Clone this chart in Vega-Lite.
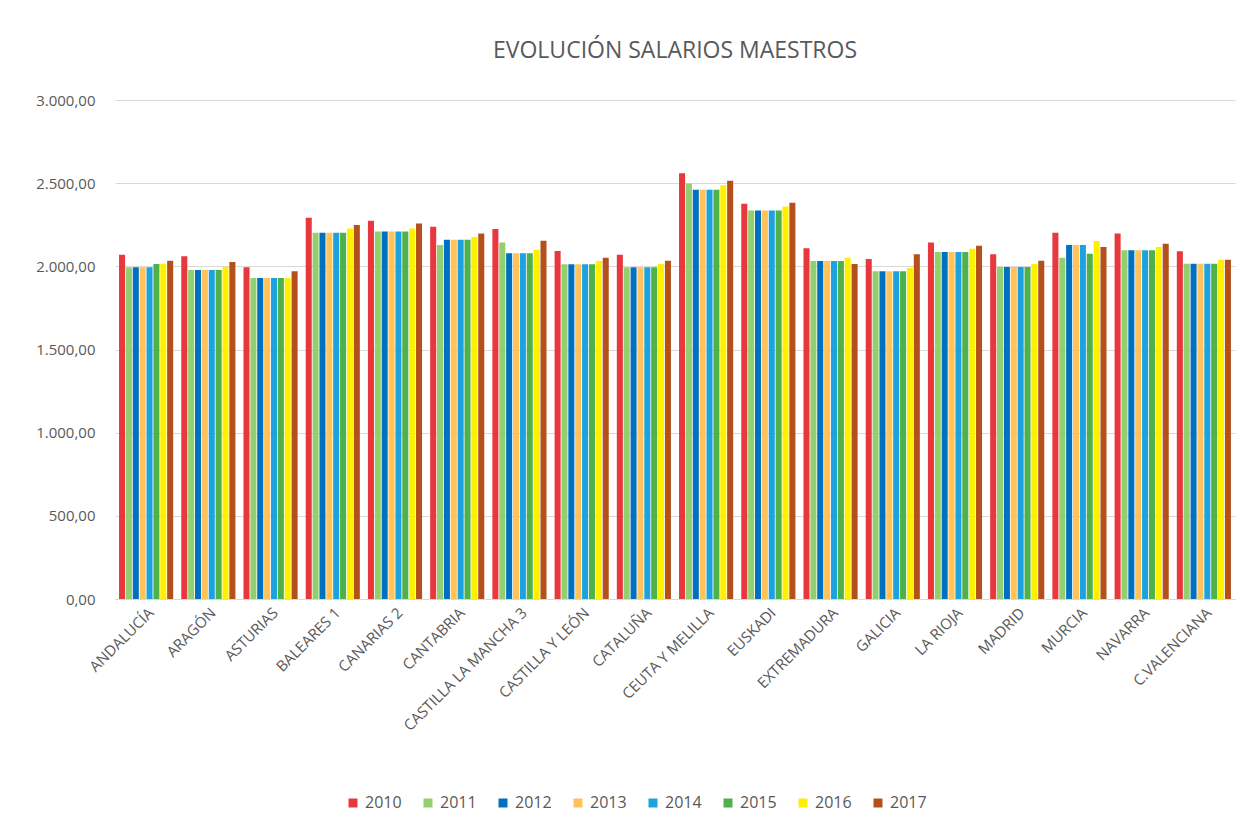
{
  "$schema": "https://vega.github.io/schema/vega-lite/v6.json",
  "width": 1120,
  "height": 499,
  "autosize": {"type": "none"},
  "padding": {"left": 115, "top": 100, "right": 15, "bottom": 231},
  "title": {"text": "EVOLUCIÓN SALARIOS MAESTROS", "fontSize": 23, "fontWeight": "normal", "color": "#595959", "offset": 30, "anchor": "middle"},
  "config": {
    "font": "Open Sans",
    "locale": {"number": {"decimal": ",", "thousands": ".", "grouping": [3], "currency": ["", " €"]}},
    "view": {"stroke": null}
  },
  "data": {"values": [
    {"r":"ANDALUCÍA","y":"2010","v":2070},{"r":"ANDALUCÍA","y":"2011","v":1995},{"r":"ANDALUCÍA","y":"2012","v":1995},{"r":"ANDALUCÍA","y":"2013","v":1995},{"r":"ANDALUCÍA","y":"2014","v":1995},{"r":"ANDALUCÍA","y":"2015","v":2014},{"r":"ANDALUCÍA","y":"2016","v":2016},{"r":"ANDALUCÍA","y":"2017","v":2034},
    {"r":"ARAGÓN","y":"2010","v":2060},{"r":"ARAGÓN","y":"2011","v":1978},{"r":"ARAGÓN","y":"2012","v":1978},{"r":"ARAGÓN","y":"2013","v":1978},{"r":"ARAGÓN","y":"2014","v":1978},{"r":"ARAGÓN","y":"2015","v":1978},{"r":"ARAGÓN","y":"2016","v":1998},{"r":"ARAGÓN","y":"2017","v":2026},
    {"r":"ASTURIAS","y":"2010","v":1994},{"r":"ASTURIAS","y":"2011","v":1930},{"r":"ASTURIAS","y":"2012","v":1930},{"r":"ASTURIAS","y":"2013","v":1930},{"r":"ASTURIAS","y":"2014","v":1930},{"r":"ASTURIAS","y":"2015","v":1930},{"r":"ASTURIAS","y":"2016","v":1930},{"r":"ASTURIAS","y":"2017","v":1970},
    {"r":"BALEARES 1","y":"2010","v":2292},{"r":"BALEARES 1","y":"2011","v":2202},{"r":"BALEARES 1","y":"2012","v":2202},{"r":"BALEARES 1","y":"2013","v":2202},{"r":"BALEARES 1","y":"2014","v":2202},{"r":"BALEARES 1","y":"2015","v":2202},{"r":"BALEARES 1","y":"2016","v":2228},{"r":"BALEARES 1","y":"2017","v":2248},
    {"r":"CANARIAS 2","y":"2010","v":2274},{"r":"CANARIAS 2","y":"2011","v":2210},{"r":"CANARIAS 2","y":"2012","v":2210},{"r":"CANARIAS 2","y":"2013","v":2210},{"r":"CANARIAS 2","y":"2014","v":2210},{"r":"CANARIAS 2","y":"2015","v":2210},{"r":"CANARIAS 2","y":"2016","v":2228},{"r":"CANARIAS 2","y":"2017","v":2258},
    {"r":"CANTABRIA","y":"2010","v":2238},{"r":"CANTABRIA","y":"2011","v":2128},{"r":"CANTABRIA","y":"2012","v":2160},{"r":"CANTABRIA","y":"2013","v":2160},{"r":"CANTABRIA","y":"2014","v":2160},{"r":"CANTABRIA","y":"2015","v":2160},{"r":"CANTABRIA","y":"2016","v":2176},{"r":"CANTABRIA","y":"2017","v":2198},
    {"r":"CASTILLA LA MANCHA 3","y":"2010","v":2224},{"r":"CASTILLA LA MANCHA 3","y":"2011","v":2144},{"r":"CASTILLA LA MANCHA 3","y":"2012","v":2078},{"r":"CASTILLA LA MANCHA 3","y":"2013","v":2078},{"r":"CASTILLA LA MANCHA 3","y":"2014","v":2078},{"r":"CASTILLA LA MANCHA 3","y":"2015","v":2078},{"r":"CASTILLA LA MANCHA 3","y":"2016","v":2100},{"r":"CASTILLA LA MANCHA 3","y":"2017","v":2154},
    {"r":"CASTILLA Y LEÓN","y":"2010","v":2092},{"r":"CASTILLA Y LEÓN","y":"2011","v":2012},{"r":"CASTILLA Y LEÓN","y":"2012","v":2012},{"r":"CASTILLA Y LEÓN","y":"2013","v":2012},{"r":"CASTILLA Y LEÓN","y":"2014","v":2012},{"r":"CASTILLA Y LEÓN","y":"2015","v":2012},{"r":"CASTILLA Y LEÓN","y":"2016","v":2032},{"r":"CASTILLA Y LEÓN","y":"2017","v":2052},
    {"r":"CATALUÑA","y":"2010","v":2070},{"r":"CATALUÑA","y":"2011","v":1994},{"r":"CATALUÑA","y":"2012","v":1994},{"r":"CATALUÑA","y":"2013","v":1994},{"r":"CATALUÑA","y":"2014","v":1994},{"r":"CATALUÑA","y":"2015","v":1994},{"r":"CATALUÑA","y":"2016","v":2014},{"r":"CATALUÑA","y":"2017","v":2034},
    {"r":"CEUTA Y MELILLA","y":"2010","v":2560},{"r":"CEUTA Y MELILLA","y":"2011","v":2498},{"r":"CEUTA Y MELILLA","y":"2012","v":2460},{"r":"CEUTA Y MELILLA","y":"2013","v":2460},{"r":"CEUTA Y MELILLA","y":"2014","v":2460},{"r":"CEUTA Y MELILLA","y":"2015","v":2460},{"r":"CEUTA Y MELILLA","y":"2016","v":2488},{"r":"CEUTA Y MELILLA","y":"2017","v":2514},
    {"r":"EUSKADI","y":"2010","v":2376},{"r":"EUSKADI","y":"2011","v":2336},{"r":"EUSKADI","y":"2012","v":2336},{"r":"EUSKADI","y":"2013","v":2336},{"r":"EUSKADI","y":"2014","v":2336},{"r":"EUSKADI","y":"2015","v":2336},{"r":"EUSKADI","y":"2016","v":2360},{"r":"EUSKADI","y":"2017","v":2382},
    {"r":"EXTREMADURA","y":"2010","v":2108},{"r":"EXTREMADURA","y":"2011","v":2032},{"r":"EXTREMADURA","y":"2012","v":2032},{"r":"EXTREMADURA","y":"2013","v":2032},{"r":"EXTREMADURA","y":"2014","v":2032},{"r":"EXTREMADURA","y":"2015","v":2032},{"r":"EXTREMADURA","y":"2016","v":2052},{"r":"EXTREMADURA","y":"2017","v":2014},
    {"r":"GALICIA","y":"2010","v":2044},{"r":"GALICIA","y":"2011","v":1970},{"r":"GALICIA","y":"2012","v":1970},{"r":"GALICIA","y":"2013","v":1970},{"r":"GALICIA","y":"2014","v":1970},{"r":"GALICIA","y":"2015","v":1970},{"r":"GALICIA","y":"2016","v":1992},{"r":"GALICIA","y":"2017","v":2072},
    {"r":"LA RIOJA","y":"2010","v":2144},{"r":"LA RIOJA","y":"2011","v":2086},{"r":"LA RIOJA","y":"2012","v":2086},{"r":"LA RIOJA","y":"2013","v":2086},{"r":"LA RIOJA","y":"2014","v":2086},{"r":"LA RIOJA","y":"2015","v":2086},{"r":"LA RIOJA","y":"2016","v":2106},{"r":"LA RIOJA","y":"2017","v":2124},
    {"r":"MADRID","y":"2010","v":2072},{"r":"MADRID","y":"2011","v":1996},{"r":"MADRID","y":"2012","v":1996},{"r":"MADRID","y":"2013","v":1996},{"r":"MADRID","y":"2014","v":1996},{"r":"MADRID","y":"2015","v":1996},{"r":"MADRID","y":"2016","v":2014},{"r":"MADRID","y":"2017","v":2034},
    {"r":"MURCIA","y":"2010","v":2202},{"r":"MURCIA","y":"2011","v":2052},{"r":"MURCIA","y":"2012","v":2128},{"r":"MURCIA","y":"2013","v":2128},{"r":"MURCIA","y":"2014","v":2128},{"r":"MURCIA","y":"2015","v":2076},{"r":"MURCIA","y":"2016","v":2152},{"r":"MURCIA","y":"2017","v":2116},
    {"r":"NAVARRA","y":"2010","v":2198},{"r":"NAVARRA","y":"2011","v":2096},{"r":"NAVARRA","y":"2012","v":2096},{"r":"NAVARRA","y":"2013","v":2096},{"r":"NAVARRA","y":"2014","v":2096},{"r":"NAVARRA","y":"2015","v":2096},{"r":"NAVARRA","y":"2016","v":2116},{"r":"NAVARRA","y":"2017","v":2136},
    {"r":"C.VALENCIANA","y":"2010","v":2090},{"r":"C.VALENCIANA","y":"2011","v":2016},{"r":"C.VALENCIANA","y":"2012","v":2016},{"r":"C.VALENCIANA","y":"2013","v":2016},{"r":"C.VALENCIANA","y":"2014","v":2016},{"r":"C.VALENCIANA","y":"2015","v":2016},{"r":"C.VALENCIANA","y":"2016","v":2040},{"r":"C.VALENCIANA","y":"2017","v":2040}
  ]},
  "mark": {"type": "bar"},
  "encoding": {
    "x": {
      "field": "r", "type": "nominal", "sort": null,
      "scale": {"paddingInner": 0.13, "paddingOuter": 0.065},
      "axis": {"title": null, "labelAngle": -45, "labelFontSize": 15, "labelColor": "#595959", "ticks": false, "domainColor": "#D9D9D9", "labelPadding": 6}
    },
    "xOffset": {"field": "y", "type": "nominal", "scale": {"paddingInner": 0.12}},
    "y": {
      "field": "v", "type": "quantitative",
      "scale": {"domain": [0, 3000]},
      "axis": {"title": null, "values": [0, 500, 1000, 1500, 2000, 2500, 3000], "format": ",.2f", "domain": false, "ticks": false, "gridColor": "#D9D9D9", "labelFontSize": 15, "labelColor": "#595959", "labelPadding": 20}
    },
    "color": {
      "field": "y", "type": "nominal",
      "scale": {"domain": ["2010","2011","2012","2013","2014","2015","2016","2017"], "range": ["#E8383D","#92D06F","#0070C0","#FFC35A","#1CA2DE","#4EB14A","#FFF000","#B4501C"]},
      "legend": {"orient": "none", "legendX": 230, "legendY": 695, "direction": "horizontal", "title": null, "symbolType": "square", "symbolSize": 81, "symbolStrokeWidth": 0, "labelFontSize": 16, "labelColor": "#595959", "columnPadding": 18, "labelOffset": 4, "padding": 0}
    }
  }
}
